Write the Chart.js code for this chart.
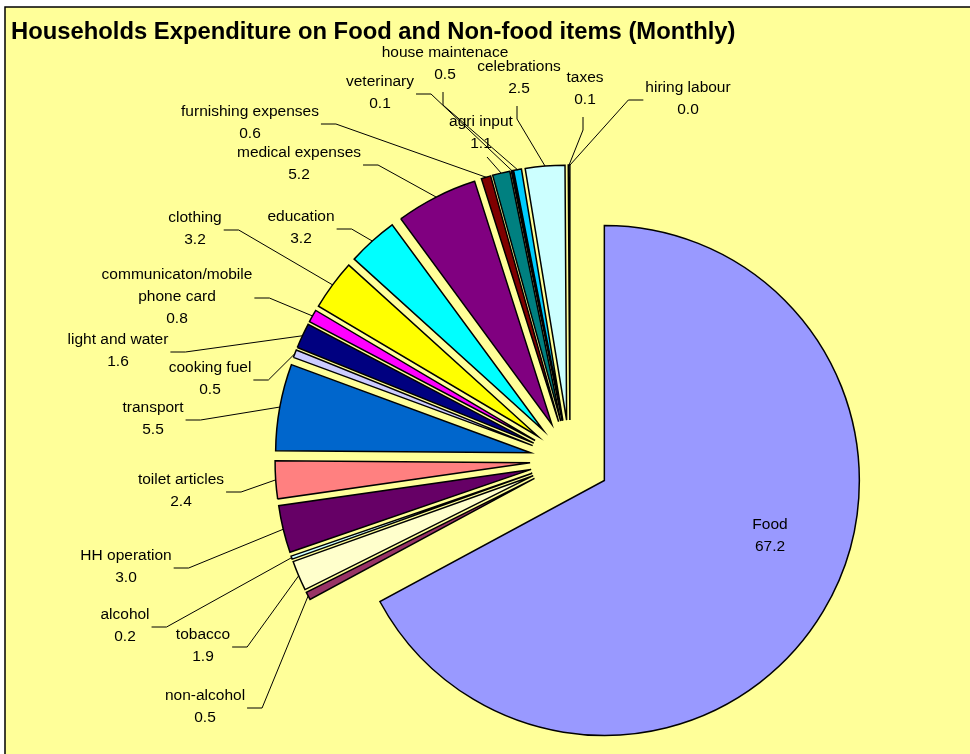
<!DOCTYPE html>
<html>
<head>
<meta charset="utf-8">
<title>Households Expenditure on Food and Non-food items</title>
<script src="https://cdn.jsdelivr.net/npm/chart.js@4.4.1/dist/chart.umd.min.js"></script>
<style>
  html, body { margin: 0; padding: 0; background: #fff; }
  canvas { display: block; }
</style>
</head>
<body>
<canvas id="gastos" width="970" height="754"></canvas>
<script>
// Categorías en el orden del pastel (sentido horario desde arriba)
const items = ['Food', 'non-alcohol', 'tobacco', 'alcohol', 'HH operation', 'toilet articles',
    'transport', 'cooking fuel', 'light and water', 'communicaton/mobile\nphone card', 'clothing',
    'education', 'medical expenses', 'furnishing expenses', 'agri input', 'veterinary',
    'house maintenace', 'celebrations', 'taxes', 'hiring labour'];

// Porcentaje del gasto mensual
const shares = [67.2, 0.5, 1.9, 0.2, 3.0, 2.4, 5.5, 0.5, 1.6, 0.8, 3.2, 3.2, 5.2, 0.6, 1.1, 0.1, 0.5, 2.5, 0.1, 0.0];

// Colores de relleno (paleta clásica de Excel)
const colores = ['#9999FF', '#993366', '#FFFFCC', '#CCFFFF', '#660066', '#FF8080', '#0066CC', '#CCCCFF',
    '#000080', '#FF00FF', '#FFFF00', '#00FFFF', '#800080', '#800000', '#008080', '#0000FF',
    '#00CCFF', '#CCFFFF', '#CCFFCC', '#FFFF99'];

// Ubicación de cada etiqueta: centro del bloque de texto y lado de la línea guía
const labelSpots = [
    [770, 536, 'in'], [205, 707, 'r'], [203, 646, 'r'], [125, 626, 'r'], [126, 567, 'r'],
    [181, 491, 'r'], [153, 419, 'r'], [210, 379, 'r'], [118, 351, 'r'], [177, 297, 'r'],
    [195, 229, 'r'], [301, 228, 'r'], [299, 164, 'r'], [250, 123, 'r'], [481, 133, 'd'],
    [380, 93, 'r'], [445, 64, 't'], [519, 78, 't'], [585, 89, 't'], [688, 99, 'l']
];

const EXPLODE = 40;   // separación de cada porción
const LINE_H = 22;

// Todas las porciones se separan del centro según su ángulo medio
const drawArc = Chart.ArcElement.prototype.draw;
Chart.ArcElement.prototype.draw = function (ctx) {
    const mid = (this.startAngle + this.endAngle) / 2;
    ctx.save();
    ctx.translate(Math.cos(mid) * EXPLODE, Math.sin(mid) * EXPLODE);
    drawArc.call(this, ctx);
    ctx.restore();
};

// Fondo amarillo con borde
const fondo = {
    id: 'fondo',
    beforeDraw(chart) {
        const ctx = chart.ctx;
        ctx.save();
        ctx.fillStyle = '#FFFF99';
        ctx.fillRect(5, 7, chart.width - 5, chart.height - 7);
        ctx.strokeStyle = '#000';
        ctx.lineWidth = 1.5;
        ctx.beginPath();
        ctx.moveTo(5, chart.height);
        ctx.lineTo(5, 7);
        ctx.lineTo(chart.width, 7);
        ctx.stroke();

        ctx.fillStyle = '#000';
        ctx.font = 'bold 23.8px "Liberation Sans", Arial, sans-serif';
        ctx.textBaseline = 'middle';
        ctx.fillText('Households Expenditure on Food and Non-food items (Monthly)', 11, 32);
        ctx.restore();
    }
};

// Etiquetas con nombre y valor, más líneas guía hacia cada porción
const etiquetas = {
    id: 'etiquetas',
    afterDatasetsDraw(chart) {
        const ctx = chart.ctx;
        const arcs = chart.getDatasetMeta(0).data;
        ctx.save();
        ctx.font = '15.5px "Liberation Sans", Arial, sans-serif';
        ctx.fillStyle = '#000';
        ctx.strokeStyle = '#000';
        ctx.lineWidth = 1;
        ctx.textAlign = 'center';
        ctx.textBaseline = 'middle';

        arcs.forEach((arc, i) => {
            const lines = items[i].split('\n').concat(shares[i].toFixed(1));
            const [cx, cy, side] = labelSpots[i];
            const top = cy - (lines.length - 1) * LINE_H / 2;
            lines.forEach((t, k) => ctx.fillText(t, cx, top + k * LINE_H));
            if (side === 'in') return;

            // punto del borde exterior en el ángulo medio
            const mid = (arc.startAngle + arc.endAngle) / 2;
            const r = arc.outerRadius + EXPLODE;
            const ax = arc.x + Math.cos(mid) * r;
            const ay = arc.y + Math.sin(mid) * r;
            const w = Math.max(...lines.map(t => ctx.measureText(t).width));
            const bottom = cy + lines.length * LINE_H / 2;

            let p1, p2;
            if (side === 'r') {
                p1 = [cx + w / 2 + 2, cy + 1];
                p2 = [p1[0] + 15, p1[1]];
            } else if (side === 'l') {
                p1 = [cx - w / 2 - 2, cy + 1];
                p2 = [p1[0] - 15, p1[1]];
            } else if (side === 't') {
                p1 = [cx - 2, bottom + 6];
                p2 = [p1[0], p1[1] + 13];
            } else {
                p1 = [cx + 6, bottom + 2];
                p2 = p1;
            }
            ctx.beginPath();
            ctx.moveTo(p1[0], p1[1]);
            ctx.lineTo(p2[0], p2[1]);
            ctx.lineTo(ax, ay);
            ctx.stroke();
        });
        ctx.restore();
    }
};

new Chart(document.getElementById('gastos'), {
    type: 'pie',
    data: {
        labels: items,
        datasets: [{
            data: shares,
            backgroundColor: colores,
            borderColor: '#000',
            borderWidth: 1.5,
            borderJoinStyle: 'miter'
        }]
    },
    options: {
        responsive: false,
        animation: false,
        radius: 255,
        layout: { padding: { left: 170, top: 166, right: 0, bottom: 0 } },
        plugins: {
            legend: { display: false },
            tooltip: { enabled: false }
        }
    },
    plugins: [fondo, etiquetas]
});
</script>
</body>
</html>
